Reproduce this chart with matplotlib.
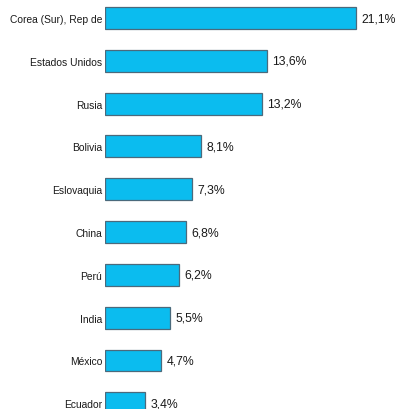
import matplotlib.pyplot as plt
from matplotlib import font_manager

paises = ["Corea (Sur), Rep de", "Estados Unidos", "Rusia", "Bolivia", "Eslovaquia",
          "China", "Perú", "India", "México", "Ecuador"]
valores = [21.1, 13.6, 13.2, 8.1, 7.3, 6.8, 6.2, 5.5, 4.7, 3.4]
etiquetas = ["21,1%", "13,6%", "13,2%", "8,1%", "7,3%", "6,8%", "6,2%", "5,5%", "4,7%", "3,4%"]

names = {f.name for f in font_manager.fontManager.ttflist}
fam = "Liberation Sans Narrow" if "Liberation Sans Narrow" in names else "Liberation Sans"
plt.rcParams['font.family'] = [fam, 'DejaVu Sans']

fig = plt.figure(figsize=(3.99, 4.10), dpi=100)
ax = fig.add_axes([105 / 399, 0, 294 / 399, 1])

pos = list(range(len(paises)))
ax.barh(pos, valores, height=0.51, color="#0bbcef", edgecolor="#4b6a7c", linewidth=0.9)

for p, v, t in zip(pos, valores, etiquetas):
    ax.text(v + 0.45, p, t, va="center", ha="left", fontsize=8.8, color="#1a1a1a")

ax.set_yticks(pos)
ax.set_yticklabels(paises, fontsize=7.4, color="#1a1a1a")
ax.tick_params(axis="y", length=0, pad=2)
ax.set_xticks([])
ax.set_xlim(0, 294 / 11.9)
ax.set_ylim(9.135, -0.444)
for s in ax.spines.values():
    s.set_visible(False)

fig.savefig("out.png", dpi=100)
